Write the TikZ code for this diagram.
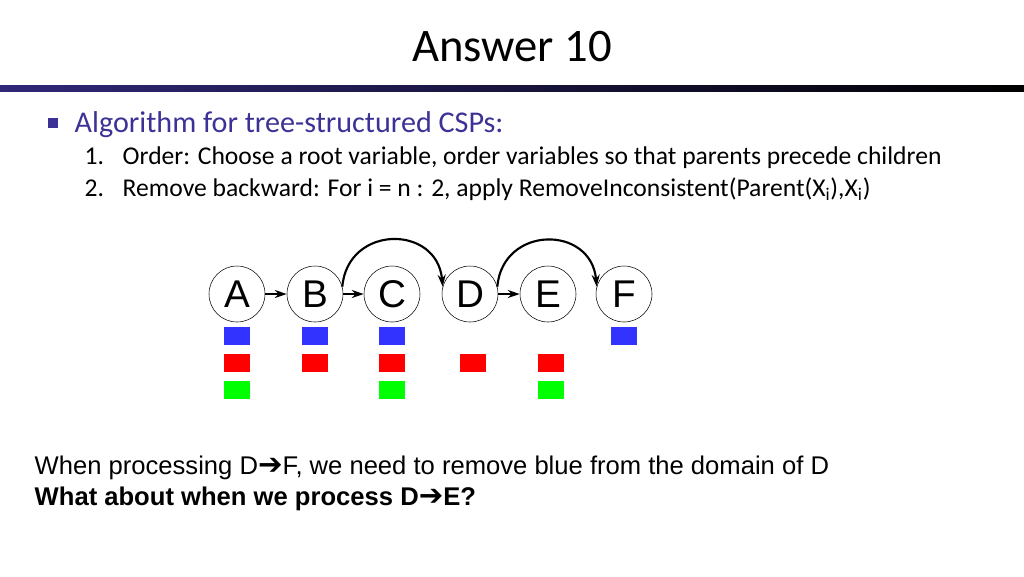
\documentclass[tikz,border=0pt]{standalone}
\usepackage{fontspec}
\setmainfont{Carlito}
\newfontfamily\arialfont{Liberation Sans}
\newfontfamily\symfont{DejaVu Sans}
\usetikzlibrary{arrows.meta}
\definecolor{titleblue}{RGB}{60,50,150}
\definecolor{dblue}{RGB}{51,51,255}
\definecolor{dred}{RGB}{255,0,0}
\definecolor{dgreen}{RGB}{0,255,0}
\tikzset{var/.style={circle,draw,thin,minimum size=42pt,inner sep=0pt,font=\arialfont\fontsize{29}{29}\selectfont}}
\tikzset{val/.style={minimum width=19pt,minimum height=14pt,inner sep=0pt}}
\tikzset{arc/.style={-{Stealth[length=9pt,width=6pt]},line width=1.6pt}}
\tikzset{item/.style={anchor=west,font=\fontsize{19.2}{19.2}\selectfont}}

\begin{document}
\begin{tikzpicture}[x=0.75pt,y=-0.75pt]
  \useasboundingbox (0,0) rectangle (1024,576);
  \node (title) at (512,47) {\fontsize{35}{35}\selectfont Answer 10};
  \shade[left color=titleblue!80!black,right color=black] (0,85) rectangle (1024,91);
  % bullet list
  \node[fill=titleblue,minimum size=7pt,inner sep=0pt] (bul) at (53,123) {};
  \node[anchor=west,text=titleblue,font=\fontsize{22.6}{22.6}\selectfont] (head) at (70,125) {Algorithm for tree-structured CSPs:};
  \node[item] (one) at (80,158) {\makebox[28.5pt][l]{1.}Order: Choose a root variable, order variables so that parents precede children};
  \node[item] (two) at (80,189) {\makebox[28.5pt][l]{2.}Remove backward: For i = n : 2, apply RemoveInconsistent(Parent(X\textsubscript{i}),X\textsubscript{i})};
  % chain of variables
  \node[var] (A) at (237,294) {A};
  \node[var] (B) at (315,294) {B};
  \node[var] (C) at (392,294) {C};
  \node[var] (D) at (470,294) {D};
  \node[var] (E) at (548,294) {E};
  \node[var] (F) at (624,294) {F};
  \draw[arc] (A) -- (B);
  \draw[arc] (B) -- (C);
  \draw[arc] (D) -- (E);
  \draw[arc] (B.15) to[out=85,in=95,looseness=1.6] (D.165);
  \draw[arc] (D.15) to[out=85,in=95,looseness=1.6] (F.165);
  % domains
  \foreach \n/\x in {a/237,b/315,c/392,f/624} \node[val,fill=dblue] (\n1) at (\x,336) {};
  \foreach \n/\x in {a/237,b/315,c/392,d/473,e/551} \node[val,fill=dred] (\n2) at (\x,363) {};
  \foreach \n/\x in {a/237,c/392,e/551} \node[val,fill=dgreen] (\n3) at (\x,390) {};
  % question
  \node[anchor=west,font=\arialfont\fontsize{19.2}{19.2}\selectfont] (q1) at (30,468) {When processing D{\symfont\bfseries\fontsize{22}{22}\selectfont ➔}F, we need to remove blue from the domain of D};
  \node[anchor=west,font=\arialfont\bfseries\fontsize{19.2}{19.2}\selectfont] (q2) at (30,499) {What about when we process D{\symfont\bfseries\fontsize{22}{22}\selectfont ➔}E?};
\end{tikzpicture}
\end{document}
